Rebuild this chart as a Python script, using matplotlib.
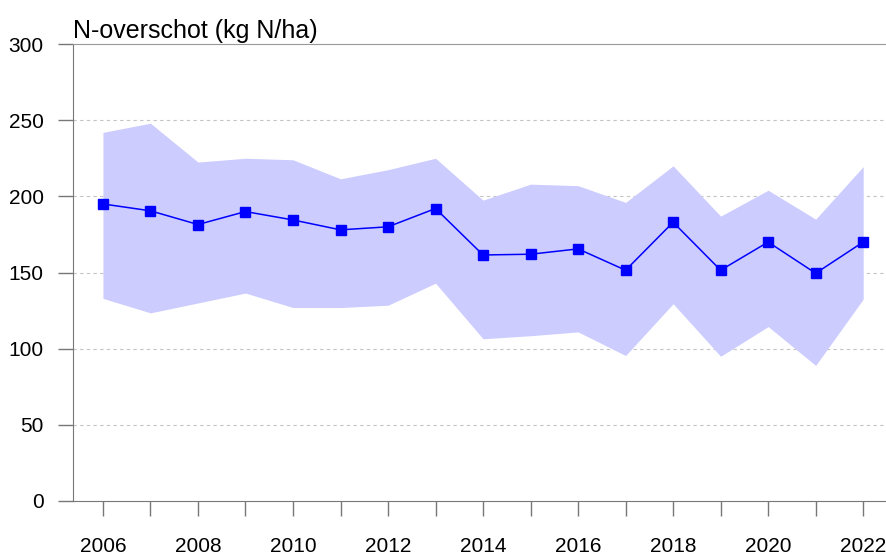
import matplotlib.pyplot as plt

plt.rcParams['font.family'] = ['Liberation Sans', 'DejaVu Sans']

# data
years = [2006, 2007, 2008, 2009, 2010, 2011, 2012, 2013, 2014,
         2015, 2016, 2017, 2018, 2019, 2020, 2021, 2022]
mean = [195, 190.5, 181.5, 190, 184.5, 178, 180, 192, 161.5,
        162, 165.5, 151.5, 183, 151.5, 170, 149.5, 170]
upper = [242, 248, 222.5, 225, 224, 211.5, 217.5, 225, 197.5,
         208, 207, 196, 220, 187, 204, 185, 219.5]
lower = [133, 123.5, 130, 136.5, 127, 127, 128.5, 143, 106.5,
         108.5, 111, 95.5, 129.5, 95, 114.5, 89, 132.5]

fig = plt.figure(figsize=(8.86, 5.57), dpi=100)
ax = fig.add_axes([73 / 886, 56 / 557, 813 / 886, 457 / 557])

ax.fill_between(years, lower, upper, color='#ccccff', linewidth=0, zorder=1)
ax.plot(years, mean, color='#0000ff', linewidth=1.1, marker='s',
        markersize=7.5, zorder=3)

ax.set_xlim(2005.37, 2022.48)
ax.set_ylim(0, 300)
ax.set_yticks(range(0, 301, 50))
ax.set_xticks(years)
ax.set_xticklabels([str(y) if i % 2 == 0 else '' for i, y in enumerate(years)])

for v in range(50, 300, 50):
    ax.axhline(v, color='#c4c4c4', linestyle=(0, (3, 3)), linewidth=0.8, zorder=0)

for s in ['left', 'bottom']:
    ax.spines[s].set_color('#777777')
ax.spines['top'].set_color('#999999')
ax.spines['right'].set_visible(False)

ax.tick_params(axis='both', colors='#777777', labelcolor='black',
               length=11, width=1, labelsize=15)
ax.tick_params(axis='x', pad=15)
ax.tick_params(axis='y', pad=10)

ax.set_title('N-overschot (kg N/ha)', loc='left', fontsize=18, pad=4)

fig.savefig('out.png', dpi=100)
